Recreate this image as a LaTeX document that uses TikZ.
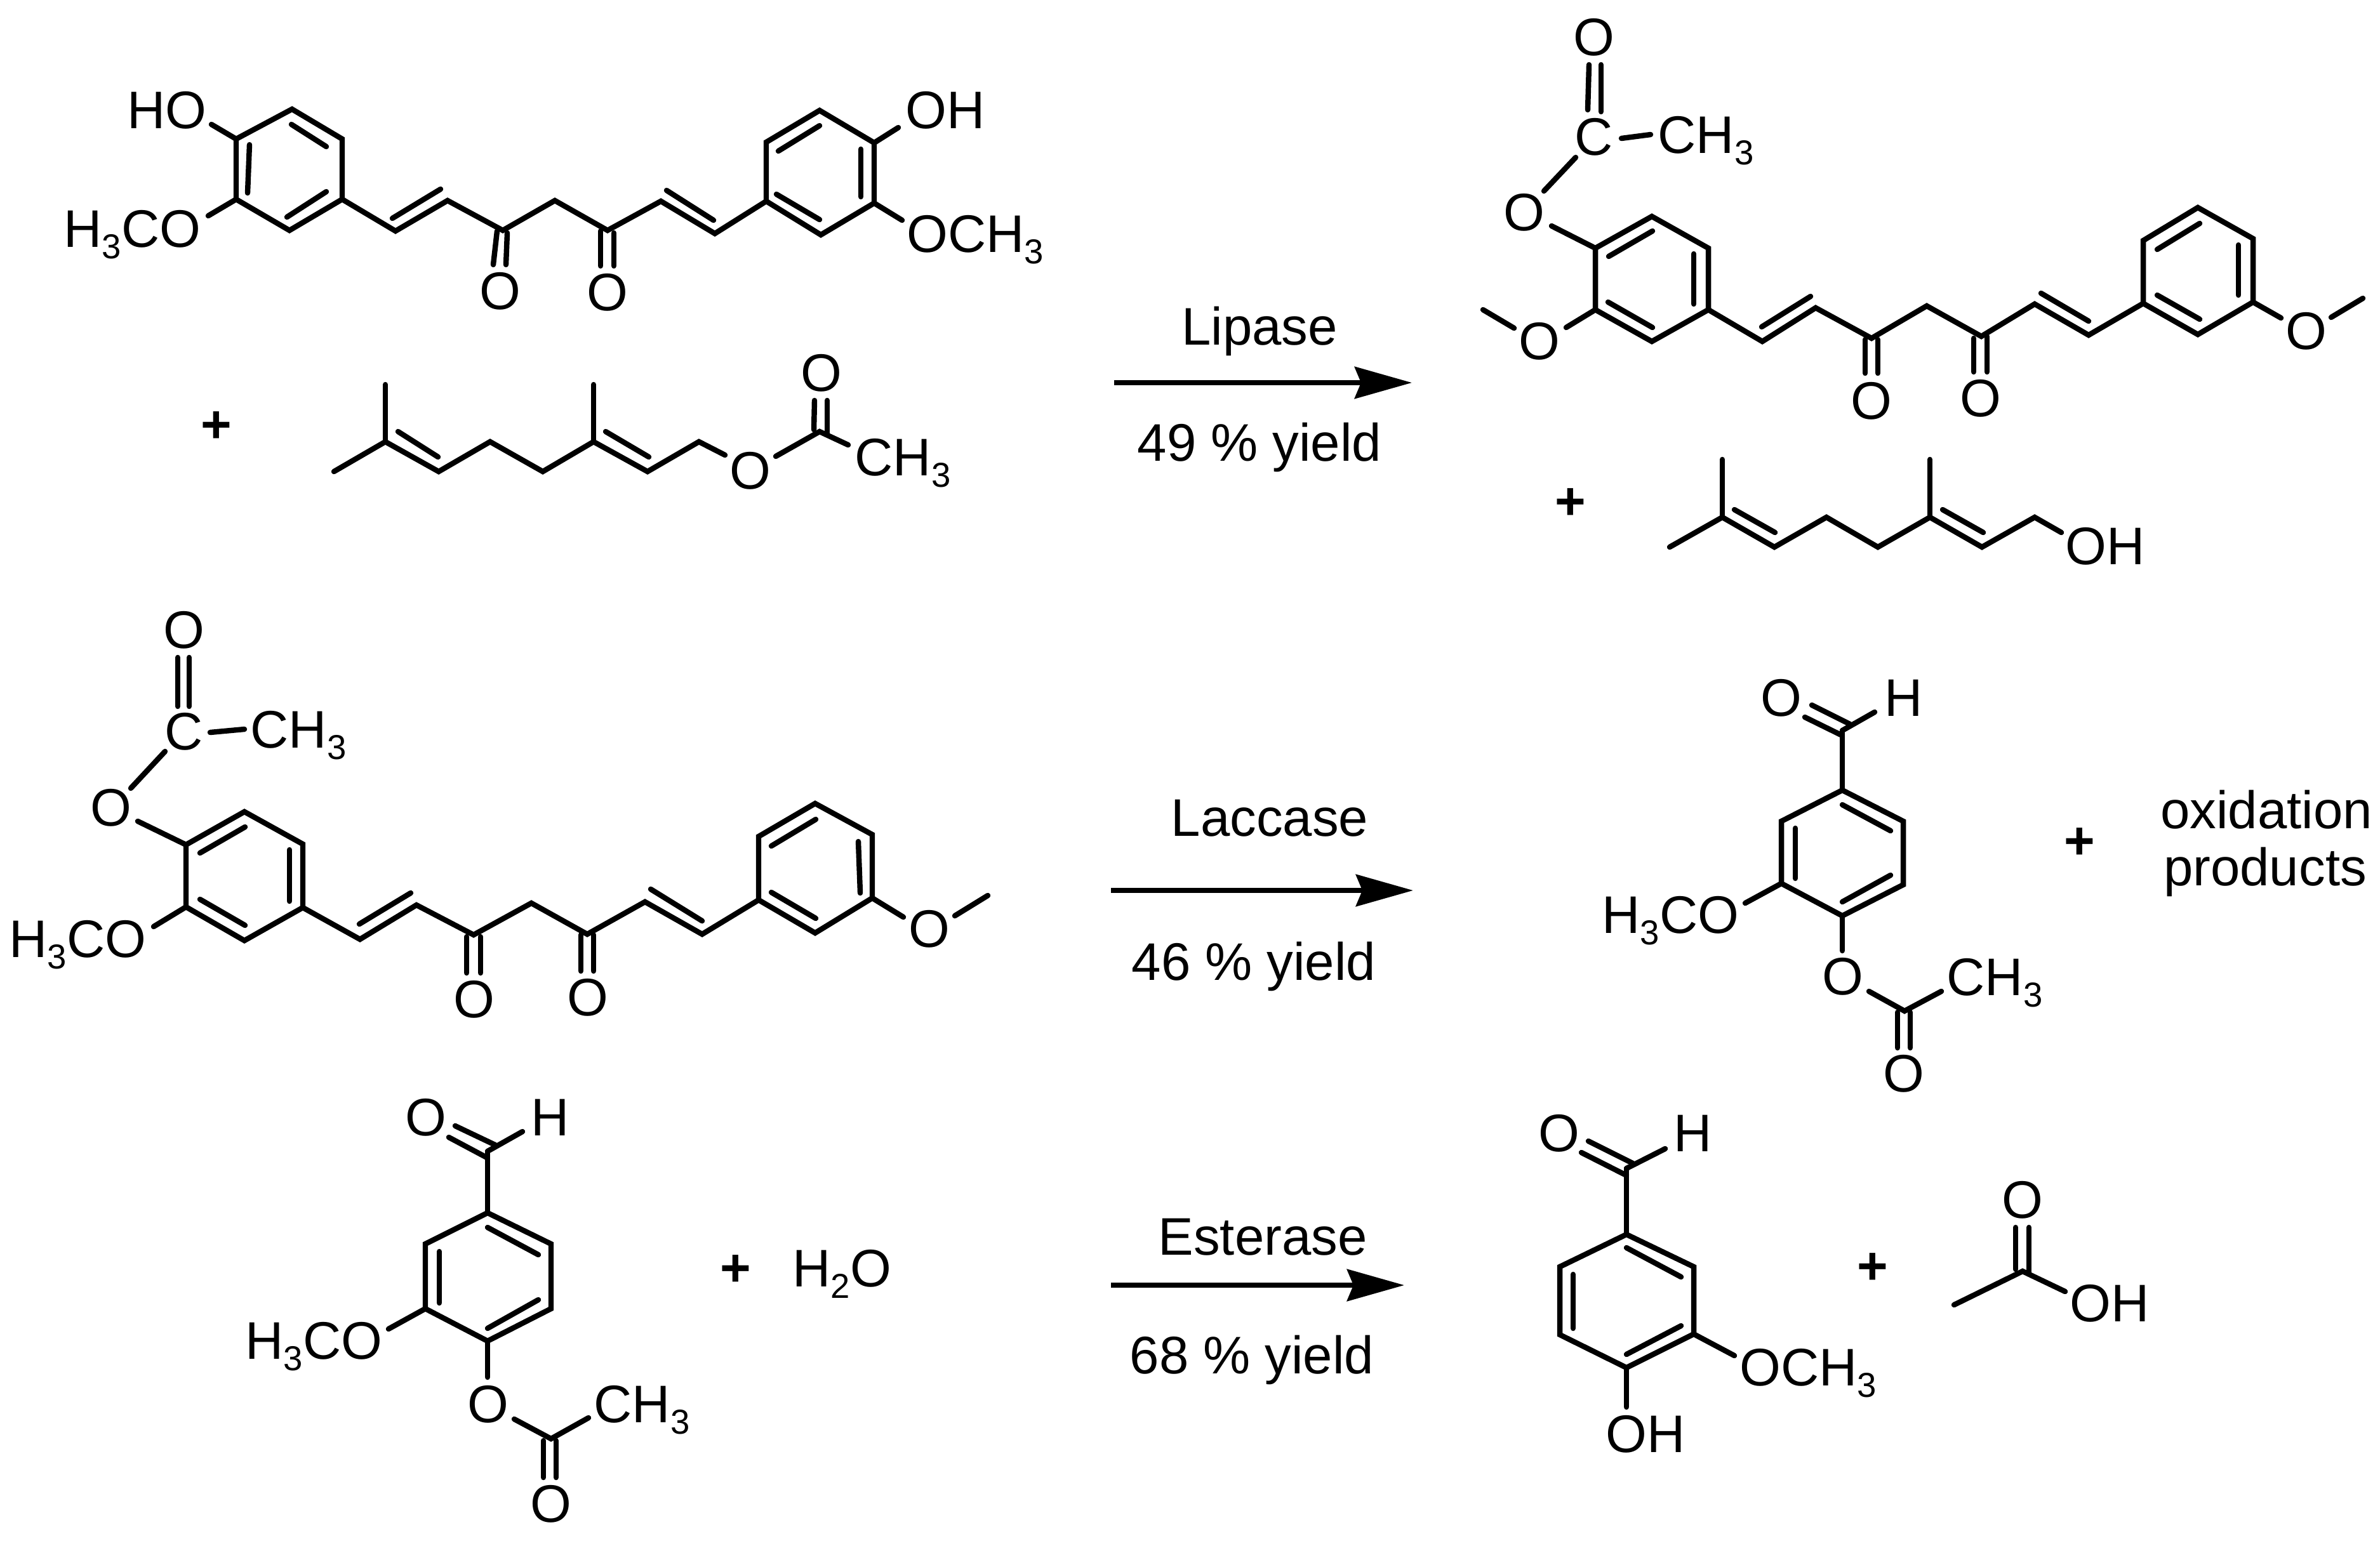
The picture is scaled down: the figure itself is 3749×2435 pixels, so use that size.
\documentclass[tikz,border=0pt]{standalone}
\usepackage{fontspec}
\setmainfont{Liberation Sans}
\usetikzlibrary{arrows.meta}
\newcommand{\labfont}{\fontsize{23.7}{27}\selectfont}
\newcommand{\sbs}[1]{\raisebox{-0.22em}{\fontsize{15.5}{17}\selectfont #1}}
\tikzset{
  bond/.style={line width=2.4pt, line cap=round},
  atom/.style={font=\labfont, inner sep=0pt, anchor=base},
  atomw/.style={font=\labfont, inner sep=0pt, anchor=base west},
  plus/.style={font=\labfont\bfseries, inner sep=0pt, anchor=center},
  rxn/.style={line width=2.3pt, -{Stealth[length=0.9cm,width=0.5cm,inset=0.1cm]}}
}
\begin{document}
\begin{tikzpicture}[x=0.01cm, y=-0.01cm]
\useasboundingbox (0,0) rectangle (3749,2435);
%% curcumin, top left
\draw[bond] (460,172) -- (539,219) -- (539,314) -- (456,363) -- (372,314) -- (372,219) -- cycle;
\draw[bond] (459,196) -- (514,231);
\draw[bond] (393,228) -- (390,304);
\draw[bond] (452,342) -- (514,302);
\draw[bond] (372,219) -- (333,196);
\draw[bond] (372,314) -- (328,340);
\draw[bond] (539,314) -- (623,364) -- (705,316) -- (792,363) -- (874,316) -- (957,363) -- (1041,317) -- (1126,368) -- (1207,317);
\draw[bond] (618,344) -- (694,298);
\draw[bond] (1050,300) -- (1124,347);
\draw[bond] (783,364) -- (777,417);
\draw[bond] (799,367) -- (797,417);
\draw[bond] (946,364) -- (946,419);
\draw[bond] (967,367) -- (967,419);
\draw[bond] (1207,317) -- (1207,224) -- (1291,174) -- (1377,225) -- (1377,320) -- (1293,370) -- cycle;
\draw[bond] (1226,238) -- (1291,198);
\draw[bond] (1356,235) -- (1356,310);
\draw[bond] (1223,306) -- (1291,346);
\draw[bond] (1377,225) -- (1415,201);
\draw[bond] (1377,320) -- (1421,347);
\node[atomw] (hoA) at (200,202) {HO};
\node[atomw] (meoA) at (100,389) {H\sbs{3}CO};
\node[atomw] (ohB) at (1426,202) {OH};
\node[atomw] (meoB) at (1428,397) {OCH\sbs{3}};
\node[atom] (oxoA) at (788,487) {O};
\node[atom] (oxoB) at (957,489) {O};
%% geranyl acetate
\node[plus] (plusA) at (341,673) {+};
\draw[bond] (526,743) -- (607,696) -- (691,743) -- (772,696) -- (855,743) -- (935,696) -- (1020,743) -- (1101,696) -- (1142,717);
\draw[bond] (607,606) -- (607,696);
\draw[bond] (935,606) -- (935,696);
\draw[bond] (627,680) -- (690,720);
\draw[bond] (954,680) -- (1022,720);
\draw[bond] (1222,719) -- (1291,680) -- (1336,701);
\draw[bond] (1283,631) -- (1282,677);
\draw[bond] (1303,631) -- (1303,683);
\node[atom] (oxoC) at (1182,770) {O};
\node[atom] (oxoD) at (1294,616) {O};
\node[atomw] (meC) at (1346,749) {CH\sbs{3}};
%% first arrow
\coordinate (arrAs) at (1755,603);
\coordinate (arrAe) at (2224,603);
\draw[rxn] (arrAs) -- (arrAe);
\node[atom] (enzA) at (1984,543) {Lipase};
\node[atom] (yldA) at (1984,726) {49 \% yield};
%% acetyl product, top right
\node[atom] (oxoE) at (2511,87) {O};
\draw[bond] (2501,173) -- (2503,102);
\draw[bond] (2522,102) -- (2522,176);
\node[atom] (carbE) at (2511,244) {C};
\draw[bond] (2554,218) -- (2600,212);
\node[atomw] (meE) at (2611,241) {CH\sbs{3}};
\draw[bond] (2482,248) -- (2432,301);
\node[atom] (oxoF) at (2401,363) {O};
\draw[bond] (2444,356) -- (2513,391);
\draw[bond] (2513,391) -- (2602,341) -- (2691,391) -- (2691,488) -- (2602,538) -- (2513,488) -- cycle;
\draw[bond] (2534,404) -- (2603,364);
\draw[bond] (2668,400) -- (2668,479);
\draw[bond] (2533,476) -- (2603,516);
\draw[bond] (2513,488) -- (2467,516);
\node[atom] (oxoG) at (2425,566) {O};
\draw[bond] (2385,517) -- (2336,488);
\draw[bond] (2691,488) -- (2776,538) -- (2860,485) -- (2948,533) -- (3035,482) -- (3121,530) -- (3205,479) -- (3290,528) -- (3376,478);
\draw[bond] (2775,515) -- (2852,467);
\draw[bond] (3215,462) -- (3290,506);
\draw[bond] (2938,535) -- (2938,588);
\draw[bond] (2958,535) -- (2958,588);
\draw[bond] (3109,533) -- (3109,586);
\draw[bond] (3130,530) -- (3130,586);
\node[atom] (oxoH) at (2948,660) {O};
\node[atom] (oxoI) at (3120,656) {O};
\draw[bond] (3376,478) -- (3376,379) -- (3462,327) -- (3549,376) -- (3549,476) -- (3462,527) -- cycle;
\draw[bond] (3398,393) -- (3465,352);
\draw[bond] (3526,386) -- (3526,465);
\draw[bond] (3398,465) -- (3465,503);
\draw[bond] (3549,476) -- (3593,501);
\node[atom] (oxoJ) at (3633,550) {O};
\draw[bond] (3672,500) -- (3722,470);
%% geraniol
\node[plus] (plusB) at (2474,794) {+};
\draw[bond] (2630,862) -- (2713,815) -- (2795,862) -- (2877,815) -- (2958,862) -- (3040,815) -- (3122,862) -- (3205,815) -- (3247,839);
\draw[bond] (2713,724) -- (2713,815);
\draw[bond] (3040,724) -- (3040,815);
\draw[bond] (2732,803) -- (2796,839);
\draw[bond] (3060,803) -- (3124,839);
\node[atomw] (ohK) at (3253,889) {OH};
%% acetyl curcumin, middle left
\node[atom] (oxoL) at (290,1021) {O};
\draw[bond] (280,1036) -- (280,1113);
\draw[bond] (298,1036) -- (298,1113);
\node[atom] (carbL) at (290,1181) {C};
\draw[bond] (331,1154) -- (385,1149);
\node[atomw] (meL) at (394,1178) {CH\sbs{3}};
\draw[bond] (260,1184) -- (206,1242);
\node[atom] (oxoM) at (175,1301) {O};
\draw[bond] (217,1294) -- (293,1331);
\draw[bond] (293,1331) -- (385,1279) -- (477,1330) -- (477,1430) -- (385,1482) -- (293,1429) -- cycle;
\draw[bond] (315,1344) -- (386,1303);
\draw[bond] (456,1339) -- (456,1420);
\draw[bond] (315,1417) -- (386,1458);
\draw[bond] (293,1429) -- (242,1460);
\node[atomw] (meoM) at (14,1508) {H\sbs{3}CO};
\draw[bond] (477,1430) -- (567,1480) -- (656,1426) -- (746,1473) -- (837,1423) -- (925,1472) -- (1016,1421) -- (1106,1472) -- (1195,1418);
\draw[bond] (566,1456) -- (647,1407);
\draw[bond] (1025,1401) -- (1106,1451);
\draw[bond] (735,1476) -- (735,1533);
\draw[bond] (757,1476) -- (757,1533);
\draw[bond] (915,1473) -- (915,1530);
\draw[bond] (935,1473) -- (935,1530);
\node[atom] (oxoN) at (747,1603) {O};
\node[atom] (oxoP) at (926,1600) {O};
\draw[bond] (1195,1418) -- (1195,1318) -- (1284,1266) -- (1374,1315) -- (1374,1415) -- (1284,1470) -- cycle;
\draw[bond] (1215,1333) -- (1285,1291);
\draw[bond] (1352,1326) -- (1355,1407);
\draw[bond] (1215,1406) -- (1285,1447);
\draw[bond] (1374,1415) -- (1423,1445);
\node[atom] (oxoQ) at (1464,1492) {O};
\draw[bond] (1504,1443) -- (1556,1411);
%% second arrow
\coordinate (arrBs) at (1750,1403);
\coordinate (arrBe) at (2226,1403);
\draw[rxn] (arrBs) -- (arrBe);
\node[atom] (enzB) at (2000,1317) {Laccase};
\node[atom] (yldB) at (1975,1544) {46 \% yield};
%% acetyl vanillin, middle right
\node[atom] (oxoR) at (2806,1128) {O};
\node[atom] (hR) at (2999,1128) {H};
\draw[bond] (2843,1130) -- (2902,1159);
\draw[bond] (2854,1111) -- (2914,1141);
\draw[bond] (2902,1151) -- (2953,1122);
\draw[bond] (2902,1151) -- (2902,1244);
\draw[bond] (2902,1245) -- (2998,1294) -- (2998,1394) -- (2902,1443) -- (2806,1392) -- (2806,1294) -- cycle;
\draw[bond] (2902,1268) -- (2978,1309);
\draw[bond] (2978,1379) -- (2902,1421);
\draw[bond] (2828,1305) -- (2828,1384);
\draw[bond] (2806,1392) -- (2749,1423);
\node[atomw] (meoR) at (2523,1470) {H\sbs{3}CO};
\draw[bond] (2902,1443) -- (2902,1498);
\node[atom] (oxoS) at (2903,1567) {O};
\draw[bond] (2944,1562) -- (3000,1593) -- (3058,1562);
\draw[bond] (2989,1595) -- (2989,1651);
\draw[bond] (3009,1595) -- (3009,1651);
\node[atom] (oxoT) at (2999,1720) {O};
\node[atomw] (meT) at (3066,1568) {CH\sbs{3}};
\node[plus] (plusC) at (3276,1329) {+};
\node[atom] (prodA) at (3570,1305) {oxidation};
\node[atom] (prodB) at (3568,1395) {products};
%% acetyl vanillin, bottom left
\node[atom] (oxoU) at (671,1789) {O};
\node[atom] (hU) at (867,1789) {H};
\draw[bond] (707,1792) -- (767,1824);
\draw[bond] (717,1774) -- (780,1804);
\draw[bond] (768,1814) -- (823,1783);
\draw[bond] (768,1814) -- (768,1910);
\draw[bond] (768,1911) -- (868,1960) -- (868,2062) -- (768,2113) -- (670,2062) -- (670,1960) -- cycle;
\draw[bond] (768,1934) -- (848,1977);
\draw[bond] (848,2048) -- (768,2093);
\draw[bond] (692,1972) -- (692,2053);
\draw[bond] (670,2062) -- (612,2094);
\node[atomw] (meoU) at (386,2141) {H\sbs{3}CO};
\draw[bond] (768,2113) -- (768,2170);
\node[atom] (oxoV) at (769,2241) {O};
\draw[bond] (810,2236) -- (868,2267) -- (927,2234);
\draw[bond] (856,2270) -- (856,2328);
\draw[bond] (876,2270) -- (876,2328);
\node[atom] (oxoW) at (868,2398) {O};
\node[atomw] (meW) at (935,2241) {CH\sbs{3}};
\node[plus] (plusD) at (1159,2002) {+};
\node[atomw] (water) at (1248,2027) {H\sbs{2}O};
%% third arrow
\coordinate (arrCs) at (1750,2025);
\coordinate (arrCe) at (2212,2025);
\draw[rxn] (arrCs) -- (arrCe);
\node[atom] (enzC) at (1989,1977) {Esterase};
\node[atom] (yldC) at (1972,2164) {68 \% yield};
%% vanillin and acetic acid
\node[atom] (oxoX) at (2456,1814) {O};
\node[atom] (hX) at (2667,1814) {H};
\draw[bond] (2491,1816) -- (2562,1852);
\draw[bond] (2502,1798) -- (2572,1833);
\draw[bond] (2562,1841) -- (2623,1810);
\draw[bond] (2562,1841) -- (2562,1944);
\draw[bond] (2562,1945) -- (2668,1996) -- (2668,2102) -- (2562,2155) -- (2457,2103) -- (2457,1996) -- cycle;
\draw[bond] (2562,1966) -- (2648,2012);
\draw[bond] (2648,2089) -- (2562,2134);
\draw[bond] (2478,2008) -- (2478,2093);
\draw[bond] (2668,2102) -- (2732,2136);
\node[atomw] (meoX) at (2740,2183) {OCH\sbs{3}};
\draw[bond] (2562,2155) -- (2562,2217);
\node[atomw] (ohX) at (2529,2288) {OH};
\node[plus] (plusE) at (2950,1999) {+};
\draw[bond] (3078,2056) -- (3186,2003) -- (3253,2035);
\draw[bond] (3175,1934) -- (3175,2000);
\draw[bond] (3196,1934) -- (3196,2005);
\node[atom] (oxoY) at (3186,1919) {O};
\node[atomw] (ohY) at (3260,2082) {OH};
\end{tikzpicture}
\end{document}
